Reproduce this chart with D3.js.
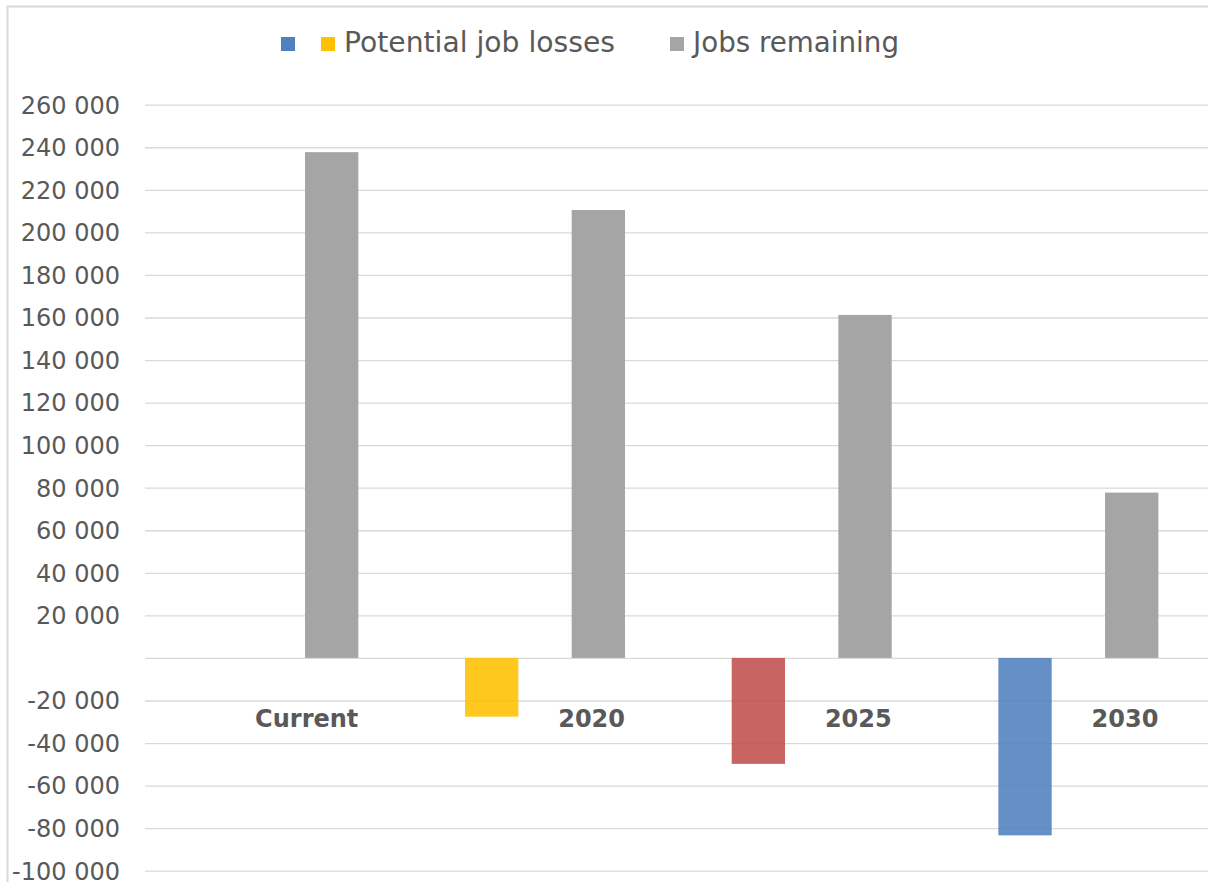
<!DOCTYPE html>
<html>
<head>
<meta charset="utf-8">
<script src="https://cdn.jsdelivr.net/npm/d3@7"></script>
<style>
  body { margin: 0; background: #fff; }
  svg { display: block; font-family: "DejaVu Sans", Verdana, sans-serif; }
</style>
</head>
<body>
<svg id="chart" width="1208" height="882"></svg>
<script>
/* chart values */
const categories = ["Current", "2020", "2025", "2030"];
const jobsRemaining = [237700, 210500, 161200, 77700];
const jobLosses = [0, -27600, -49800, -83400];
const lossColors = ["#ffc000", "#ffc000", "#c0504d", "#4f81bd"];
const yTicks = [260000, 240000, 220000, 200000, 180000, 160000, 140000, 120000, 100000,
  80000, 60000, 40000, 20000, 0, -20000, -40000, -60000, -80000, -100000];
const legendItems = [
  { label: "", color: "#4f81bd" },
  { label: "Potential job losses", color: "#ffc000" },
  { label: "Jobs remaining", color: "#a5a5a5" }
];

const FONT = '"DejaVu Sans", Verdana, sans-serif';
const svg = d3.select("#chart");

const plot = { left: 145, right: 1211.7, top: 104.7, bottom: 870.7 };

// outer chart border (runs off the picture at right and bottom)
svg.append("rect")
  .attr("x", 7.5).attr("y", 6.5)
  .attr("width", 1240).attr("height", 920)
  .attr("fill", "none")
  .attr("stroke", "#d9d9d9")
  .attr("stroke-width", 2);

const y = d3.scaleLinear()
  .domain([-100000, 260000])
  .range([plot.bottom, plot.top]);

const x = d3.scaleBand()
  .domain(categories)
  .range([plot.left, plot.right]);

// two bars per group, gaps equal to bar width
const inner = d3.scaleBand()
  .domain(["loss", "remain"])
  .range([0, x.bandwidth()])
  .paddingInner(0.5)
  .paddingOuter(0.5);

// gridlines
const grid = svg.append("g")
  .attr("transform", `translate(${plot.left},0)`)
  .call(d3.axisLeft(y).tickValues(yTicks).tickSize(-(plot.right - plot.left)).tickFormat(""));
grid.select(".domain").remove();
grid.selectAll("line").attr("stroke", "#d9d9d9").attr("stroke-width", 1.3);

// tick labels, "# ###" style with blank zero and plain hyphen
const fmt = v => v === 0 ? "" : (v < 0 ? "-" : "") + d3.format(",")(Math.abs(v)).replace(/,/g, " ");
const yAxis = svg.append("g")
  .attr("transform", "translate(120,0)")
  .call(d3.axisLeft(y).tickValues(yTicks).tickSize(0).tickPadding(0).tickFormat(fmt))
  .attr("font-family", FONT)
  .attr("font-size", 24);
yAxis.select(".domain").remove();
yAxis.selectAll("text")
  .attr("fill", "#595959")
  .attr("dy", "0.35em");

// jobs remaining bars
svg.append("g").selectAll("rect")
  .data(categories)
  .join("rect")
  .attr("x", (d) => x(d) + inner("remain"))
  .attr("width", inner.bandwidth())
  .attr("y", (d, i) => y(jobsRemaining[i]))
  .attr("height", (d, i) => y(0) - y(jobsRemaining[i]))
  .attr("fill", "#a5a5a5");

// potential job losses bars
svg.append("g").selectAll("rect")
  .data(categories)
  .join("rect")
  .attr("x", (d) => x(d) + inner("loss"))
  .attr("width", inner.bandwidth())
  .attr("y", y(0))
  .attr("height", (d, i) => y(jobLosses[i]) - y(0))
  .attr("fill", (d, i) => lossColors[i])
  .attr("fill-opacity", 0.88);

// category labels
svg.append("g").selectAll("text")
  .data(categories)
  .join("text")
  .attr("x", (d) => x(d) + inner("remain") + inner.bandwidth())
  .attr("y", 727)
  .attr("text-anchor", "end")
  .attr("fill", "#595959")
  .style("font-size", "24px")
  .style("font-weight", "bold")
  .text(d => d);

// legend
const legendX = [281, 321, 670];
const legendWidths = [0, 271, 206];
const legend = svg.append("g");
legendItems.forEach((item, i) => {
  legend.append("rect")
    .attr("x", legendX[i]).attr("y", 37)
    .attr("width", 14).attr("height", 14)
    .attr("fill", item.color);
  if (item.label) {
    legend.append("text")
      .attr("x", legendX[i] + 23)
      .attr("y", 52)
      .attr("fill", "#595959")
      .style("font-size", "28px")
      .attr("textLength", legendWidths[i])
      .attr("lengthAdjust", "spacingAndGlyphs")
      .text(item.label);
  }
});
</script>
</body>
</html>
